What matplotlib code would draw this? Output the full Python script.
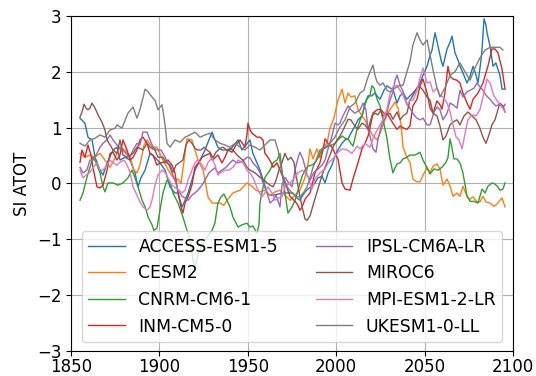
import matplotlib
matplotlib.use("Agg")
import matplotlib.pyplot as plt

# ---------------- data ----------------
access_years = [1855.1,1857.9,1859.6,1861.9,1863.6,1866.4,1868.1,1870.4,1873.8,1876.0,1877.7,1880.5,1883.4,1886.2,1887.9,1889.5,1891.9,1894.7,1897.5,1900.3,1903.2,1906.0,1908.8,1910.5,1912.8,1914.5,1916.2,1918.4,1920.1,1923.0,1925.8,1928.0,1929.8,1931.4,1933.1,1935.4,1938.2,1939.9,1942.2,1944.5,1946.7,1949.0,1951.2,1952.9,1955.2,1956.9,1959.2,1960.9,1962.6,1964.3,1967.1,1969.9,1972.7,1975.6,1977.8,1979.5,1980.7,1982.4,1984.0,1986.3,1988.0,1989.7,1992.0,1993.7,1995.4,1997.6,1999.3,2001.0,2003.3,2005.0,2006.7,2008.3,2010.6,2012.3,2014.6,2016.3,2018.0,2020.2,2021.9,2023.6,2024.8,2027.0,2028.7,2030.4,2032.1,2034.4,2036.1,2037.8,2040.0,2041.7,2043.4,2045.7,2047.4,2049.1,2051.4,2053.1,2054.2,2055.9,2057.6,2059.3,2060.4,2062.7,2064.4,2065.5,2067.2,2068.9,2070.0,2071.7,2074.0,2075.7,2077.4,2079.1,2080.2,2081.9,2082.5,2083.6,2084.7,2085.3,2087.0,2088.7,2090.3,2092.6,2093.8,2094.9]
access_vals = [1.17,1.08,0.83,0.78,0.47,0.24,0.15,0.37,0.60,0.65,0.42,0.47,0.42,0.19,-0.06,0.10,0.24,0.54,0.47,0.37,0.24,-0.06,-0.17,-0.17,-0.42,-0.30,-0.17,0.06,0.24,0.42,0.60,0.78,0.92,0.78,0.65,0.60,0.60,0.60,0.69,0.78,0.60,0.69,0.78,0.54,0.37,0.24,0.01,-0.17,-0.21,-0.21,-0.19,-0.17,-0.17,-0.17,-0.26,-0.30,-0.23,-0.15,-0.10,-0.05,0.01,0.10,0.13,0.01,0.19,0.33,0.49,0.60,0.72,0.78,0.80,0.90,1.03,1.14,1.21,1.44,1.57,1.57,1.62,1.55,1.51,1.67,1.75,1.71,1.69,1.44,1.57,1.62,1.51,1.57,1.62,1.71,1.80,1.94,2.10,2.30,2.39,2.70,2.46,2.21,2.10,2.41,2.53,2.64,2.34,2.21,2.10,1.98,1.80,1.92,2.10,1.94,1.80,2.21,2.41,2.95,2.84,2.70,2.46,2.10,2.16,1.94,1.69,1.69]

cesm_years = [1855.1,1857.9,1860.7,1863.6,1866.4,1869.2,1872.1,1874.9,1877.7,1880.5,1883.4,1885.6,1887.3,1889.0,1891.3,1893.0,1895.8,1898.6,1902.0,1904.3,1906.0,1908.8,1910.5,1912.2,1913.9,1915.6,1918.4,1920.1,1921.8,1924.7,1927.5,1929.8,1931.4,1934.3,1936.5,1938.2,1941.6,1945.6,1949.5,1952.4,1954.6,1956.9,1959.7,1962.6,1965.4,1968.2,1971.0,1973.9,1976.7,1979.5,1981.8,1983.5,1985.2,1986.9,1989.1,1990.8,1992.5,1994.8,1996.5,1998.7,2001.0,2003.3,2005.0,2006.7,2008.3,2010.6,2012.3,2014.6,2016.3,2018.0,2020.8,2023.1,2024.8,2026.5,2028.7,2030.4,2033.3,2035.0,2036.7,2037.8,2040.0,2041.7,2043.4,2045.7,2047.4,2049.1,2051.4,2053.1,2054.8,2057.0,2058.7,2060.4,2062.7,2064.4,2066.1,2068.3,2070.0,2071.7,2074.0,2075.7,2077.4,2079.6,2081.3,2083.0,2084.7,2087.0,2089.2,2090.9,2092.6,2093.8,2095.5]
cesm_vals = [0.54,0.47,0.51,0.47,0.54,0.42,0.29,0.46,0.65,0.60,0.47,0.24,0.19,0.33,0.69,0.78,0.65,0.65,0.42,0.28,0.19,0.06,0.08,0.00,0.40,0.80,0.78,0.60,0.42,0.24,-0.24,-0.35,-0.35,-0.35,-0.39,-0.30,-0.17,-0.12,0.01,-0.05,-0.12,-0.15,-0.12,-0.21,-0.15,-0.12,-0.21,-0.30,-0.21,-0.12,0.06,0.24,0.62,0.44,0.62,0.46,0.65,0.72,0.99,1.17,1.49,1.69,1.44,1.62,1.55,1.57,1.33,1.21,1.14,1.01,0.85,0.78,0.90,1.05,1.23,1.32,1.46,1.35,1.05,0.65,0.47,0.38,0.08,0.03,0.03,0.15,0.28,0.20,0.31,0.35,0.26,-0.03,0.08,-0.05,-0.23,-0.17,-0.23,-0.05,-0.23,-0.28,-0.24,-0.33,-0.33,-0.23,-0.33,-0.35,-0.41,-0.37,-0.30,-0.26,-0.42]

cnrm_years = [1855.1,1856.8,1859.0,1860.7,1862.4,1864.1,1866.4,1868.1,1869.2,1870.9,1873.8,1876.6,1879.4,1882.2,1884.5,1886.2,1887.9,1890.2,1891.9,1893.6,1895.8,1896.9,1898.6,1900.3,1902.0,1904.3,1906.0,1907.7,1910.5,1913.3,1915.6,1917.3,1919.0,1920.1,1921.8,1924.1,1925.8,1928.0,1929.8,1931.4,1933.1,1934.8,1936.5,1938.2,1939.9,1941.6,1944.5,1946.7,1949.5,1951.2,1952.9,1955.2,1956.3,1956.9,1958.0,1959.7,1962.6,1964.3,1966.5,1968.2,1969.3,1971.0,1972.7,1975.0,1976.7,1978.4,1980.7,1982.4,1984.0,1986.3,1988.0,1989.7,1992.0,1993.7,1995.4,1997.6,1999.3,2001.0,2003.3,2005.0,2006.7,2008.3,2009.5,2011.8,2013.5,2014.6,2016.3,2017.4,2019.1,2020.2,2021.4,2023.1,2024.8,2026.5,2028.7,2030.4,2032.1,2033.3,2034.4,2036.1,2037.8,2040.0,2041.7,2044.6,2047.4,2049.1,2051.4,2053.1,2055.3,2057.6,2059.8,2062.1,2063.2,2064.4,2065.5,2066.6,2068.3,2070.0,2071.7,2074.0,2075.7,2078.0,2080.2,2082.5,2084.2,2085.8,2088.1,2089.8,2091.5,2092.6,2094.3,2095.5]
cnrm_vals = [-0.30,-0.17,0.11,0.29,0.47,0.38,0.19,-0.06,-0.15,0.01,0.01,-0.03,0.01,0.10,0.24,0.10,-0.06,-0.30,-0.42,-0.60,-0.74,-0.84,-0.80,-0.48,-0.17,0.06,0.01,-0.17,-0.35,-0.60,-0.84,-1.01,-1.37,-1.52,-1.27,-1.10,-1.01,-0.92,-0.84,-0.71,-0.35,-0.24,-0.19,-0.30,-0.42,-0.60,-0.78,-0.74,-0.71,-0.78,-0.76,-0.89,-0.74,-0.35,-0.17,0.11,0.24,0.37,0.42,0.54,0.24,-0.17,-0.53,-0.42,-0.30,-0.12,0.13,0.24,0.31,0.33,0.37,0.46,0.62,0.63,0.67,0.69,0.72,0.78,0.85,0.81,0.80,0.72,0.67,0.97,1.14,1.21,1.41,1.51,1.58,1.75,1.71,1.51,1.39,1.14,0.81,0.44,0.19,0.28,0.35,0.37,0.44,0.47,0.51,0.51,0.56,0.42,0.28,0.17,0.26,0.24,0.29,0.38,0.46,0.80,0.63,0.44,0.44,0.37,0.19,-0.23,-0.32,-0.32,-0.35,-0.10,-0.17,-0.05,0.01,-0.01,-0.06,-0.12,-0.10,0.01]

inm_years = [1855.1,1856.2,1857.9,1859.6,1861.3,1862.4,1864.7,1866.4,1868.1,1870.4,1872.1,1873.8,1876.0,1877.7,1879.4,1881.7,1883.4,1885.1,1887.3,1889.0,1890.7,1893.0,1894.7,1896.4,1898.6,1900.3,1902.6,1904.9,1907.1,1908.8,1910.5,1912.2,1913.3,1914.5,1916.2,1918.4,1920.1,1922.4,1924.1,1926.4,1928.6,1929.8,1931.4,1933.1,1935.4,1937.1,1938.8,1941.1,1943.3,1945.6,1948.4,1949.5,1950.1,1951.2,1952.4,1955.2,1956.9,1958.6,1959.7,1961.4,1963.1,1964.3,1966.5,1968.2,1969.9,1972.2,1973.9,1976.7,1978.4,1979.5,1980.7,1982.4,1985.2,1988.0,1990.8,1992.5,1993.7,1995.4,1997.6,1999.3,2001.0,2003.3,2005.0,2007.8,2009.5,2012.3,2014.6,2016.3,2018.0,2019.1,2020.8,2023.1,2024.8,2026.5,2028.7,2030.4,2032.1,2034.4,2036.1,2038.3,2040.0,2041.7,2043.4,2045.7,2047.4,2049.1,2051.4,2053.1,2054.8,2057.0,2058.7,2059.8,2061.5,2063.2,2064.4,2066.1,2068.3,2070.0,2071.7,2074.0,2075.7,2077.4,2080.2,2083.0,2085.8,2088.1,2089.8,2091.5,2093.8,2095.5]
inm_vals = [0.38,0.60,0.47,0.69,0.51,0.29,-0.06,-0.08,-0.03,0.24,0.54,0.56,0.42,0.51,0.78,0.60,0.42,0.47,0.60,0.78,0.83,0.72,0.54,0.51,0.33,0.37,0.38,0.42,0.33,0.19,-0.17,-0.42,-0.53,-0.35,-0.24,-0.03,0.29,0.38,0.47,0.51,0.54,0.42,0.46,0.51,0.37,0.47,0.60,0.56,0.69,0.78,0.65,0.87,1.08,0.96,0.90,0.83,0.83,0.78,0.54,0.47,0.38,0.29,0.37,0.24,0.11,-0.08,-0.23,-0.32,-0.39,-0.48,-0.42,-0.28,-0.17,0.19,0.37,0.60,0.80,0.72,0.65,0.54,0.44,0.01,-0.10,-0.12,0.08,0.37,0.62,0.72,0.85,0.99,1.26,1.32,1.33,1.21,1.26,1.17,1.08,0.97,1.03,0.99,0.97,1.03,1.39,1.51,1.75,1.87,1.62,1.35,1.26,1.48,1.41,1.33,1.62,2.10,1.92,1.87,1.85,1.80,1.62,1.44,1.33,1.51,1.62,1.80,2.10,2.41,2.41,2.34,2.05,1.69]

ipsl_years = [1855.1,1856.8,1859.0,1860.7,1862.4,1864.7,1866.4,1868.1,1870.4,1872.1,1873.8,1876.0,1877.7,1879.4,1881.7,1883.4,1885.1,1887.3,1889.0,1890.7,1893.0,1894.7,1896.4,1898.6,1900.9,1903.2,1905.4,1907.1,1908.8,1910.5,1912.8,1914.5,1916.2,1918.4,1920.1,1921.8,1924.1,1925.8,1928.0,1929.8,1931.4,1933.1,1935.4,1937.7,1939.9,1941.6,1943.9,1945.6,1947.8,1949.5,1951.2,1952.9,1955.2,1956.9,1958.6,1960.9,1962.6,1964.3,1966.0,1968.2,1969.3,1971.0,1972.7,1975.0,1976.7,1978.4,1979.5,1981.2,1983.5,1985.2,1987.4,1989.7,1992.0,1993.7,1995.4,1997.6,1999.3,2001.0,2002.1,2003.8,2006.7,2008.3,2010.6,2013.5,2015.2,2016.8,2018.0,2019.1,2020.8,2022.5,2023.6,2025.9,2028.1,2030.4,2032.1,2033.3,2034.4,2036.1,2037.8,2040.0,2041.7,2043.9,2045.7,2047.4,2049.1,2051.4,2053.1,2055.3,2057.0,2058.7,2060.4,2062.7,2064.4,2066.1,2068.3,2070.0,2071.7,2074.0,2075.7,2078.0,2079.6,2081.3,2083.0,2084.7,2087.0,2088.7,2090.3,2092.6,2094.3,2095.5]
ipsl_vals = [0.29,0.19,0.24,0.42,0.42,0.54,0.65,0.72,0.78,0.87,0.78,0.69,0.63,0.60,0.51,0.47,0.60,0.72,0.69,0.92,0.92,0.78,0.65,0.60,0.60,0.47,0.33,0.19,0.06,-0.12,-0.23,-0.26,-0.30,-0.21,-0.17,-0.12,-0.03,0.06,0.19,0.24,0.28,0.19,0.24,0.29,0.37,0.42,0.37,0.38,0.42,0.47,0.46,0.37,0.29,0.19,0.01,-0.17,-0.35,-0.30,-0.21,-0.42,-0.03,0.11,0.03,-0.06,0.24,0.46,0.56,0.44,0.15,0.06,0.20,0.26,0.33,0.42,0.62,0.85,1.08,1.05,1.08,1.21,1.39,1.32,1.26,1.32,1.44,1.32,0.97,0.85,0.62,0.56,0.78,1.08,1.19,1.49,1.64,1.85,1.94,1.76,1.65,1.42,1.35,1.23,1.17,1.14,1.17,1.05,1.05,1.28,1.37,1.32,1.14,1.26,1.44,1.41,1.35,1.67,1.55,1.64,1.67,1.71,1.80,1.73,1.67,1.58,1.51,1.44,1.39,1.42,1.35,1.42]

miroc_years = [1855.1,1856.2,1857.4,1858.5,1859.6,1860.7,1861.9,1863.6,1865.3,1867.5,1869.2,1870.4,1872.1,1873.8,1876.0,1877.7,1879.4,1881.7,1883.4,1885.1,1887.3,1889.0,1890.7,1893.0,1894.7,1897.5,1899.2,1902.0,1903.7,1906.0,1907.7,1909.4,1911.1,1913.3,1915.0,1916.7,1918.4,1920.1,1921.8,1923.5,1925.2,1926.9,1928.6,1930.3,1932.0,1934.3,1936.0,1938.2,1939.9,1941.6,1943.9,1945.6,1947.3,1949.5,1951.2,1954.1,1956.9,1959.2,1960.9,1962.6,1964.3,1966.0,1967.6,1969.3,1971.0,1972.7,1974.4,1976.1,1977.8,1979.5,1981.2,1982.4,1983.5,1985.2,1986.9,1988.6,1990.3,1992.0,1994.2,1996.5,1998.2,2000.5,2002.1,2004.4,2006.7,2008.3,2010.1,2012.3,2014.6,2016.3,2018.0,2020.2,2021.9,2023.6,2025.4,2027.0,2028.7,2030.4,2032.1,2034.4,2036.1,2037.8,2040.0,2041.7,2043.4,2045.7,2047.4,2049.1,2051.4,2053.1,2054.8,2057.0,2058.7,2060.4,2062.1,2064.4,2066.1,2068.3,2070.0,2072.3,2074.5,2076.8,2079.1,2081.3,2083.0,2084.7,2086.4,2088.1,2089.8,2091.5,2092.6,2094.3,2095.5]
miroc_vals = [1.19,1.28,1.42,1.35,1.32,1.35,1.44,1.35,1.23,1.10,0.96,0.78,0.69,0.60,0.54,0.78,0.51,0.47,0.51,0.54,0.65,0.63,0.60,0.72,0.65,0.60,0.47,0.47,0.38,0.33,0.20,0.33,0.37,0.42,0.69,0.78,0.72,0.63,0.60,0.60,0.65,0.60,0.56,0.46,0.56,0.63,0.65,0.60,0.63,0.60,0.51,0.46,0.42,0.29,0.24,0.19,0.11,0.06,0.01,-0.03,-0.06,0.06,0.24,0.37,0.54,0.42,0.47,0.38,0.06,-0.24,-0.48,-0.64,-0.66,-0.58,-0.39,-0.21,-0.03,0.15,0.33,0.51,0.65,0.78,0.85,0.99,1.15,1.14,1.05,0.97,1.08,1.05,0.97,1.21,1.26,1.23,1.32,1.26,1.23,1.26,1.15,1.28,1.14,1.21,1.26,1.49,1.58,1.71,1.73,1.67,1.55,1.49,1.26,1.21,1.03,0.78,0.85,1.05,1.10,1.14,1.05,1.21,1.28,1.21,1.14,0.99,0.83,0.72,0.87,1.05,1.14,1.32,1.44,1.39,1.28]

mpi_years = [1855.1,1856.8,1858.5,1860.7,1862.4,1864.7,1866.4,1868.1,1870.4,1872.1,1873.8,1876.0,1877.7,1880.0,1881.7,1883.4,1885.1,1887.3,1889.0,1890.7,1893.0,1894.7,1895.8,1897.5,1899.2,1901.5,1903.2,1904.9,1907.1,1909.4,1911.1,1912.8,1914.5,1916.2,1918.4,1920.1,1921.8,1924.1,1925.8,1927.5,1929.8,1931.4,1933.1,1934.8,1937.1,1939.4,1941.6,1944.5,1947.3,1949.5,1951.2,1952.9,1955.8,1958.0,1959.7,1961.4,1963.7,1965.4,1967.6,1969.3,1971.0,1973.9,1976.7,1978.4,1980.7,1982.4,1984.0,1986.3,1988.0,1990.8,1993.7,1995.4,1998.2,2000.5,2003.3,2006.1,2008.9,2011.8,2013.5,2016.3,2019.1,2020.8,2022.5,2024.8,2026.5,2028.7,2030.4,2032.1,2034.4,2036.1,2037.8,2040.0,2041.7,2043.4,2045.7,2047.4,2049.1,2051.4,2053.1,2054.8,2057.0,2058.7,2060.4,2062.7,2064.4,2066.1,2067.8,2069.5,2071.2,2072.9,2074.5,2076.8,2079.1,2081.3,2083.0,2085.3,2087.0,2089.2,2091.5,2093.8,2095.5]
mpi_vals = [0.24,0.10,0.15,0.20,0.28,0.37,0.24,0.24,0.33,0.42,0.37,0.33,0.38,0.42,0.33,0.20,-0.06,-0.21,-0.33,-0.42,-0.48,-0.42,-0.30,-0.03,0.15,0.24,0.20,0.10,-0.03,-0.08,-0.12,-0.17,-0.12,0.06,0.24,0.37,0.42,0.33,0.24,0.38,0.46,0.33,0.15,0.20,0.24,0.24,0.29,0.42,0.37,0.24,0.19,0.11,-0.12,-0.24,-0.17,-0.06,-0.17,-0.30,-0.26,-0.24,-0.06,0.01,0.11,0.19,0.24,0.19,0.13,-0.10,0.08,0.19,0.26,0.37,0.44,0.54,0.62,0.60,0.54,0.67,0.62,0.72,0.65,0.80,0.92,1.05,1.15,1.33,1.60,1.73,1.76,1.67,1.58,1.41,1.49,1.49,1.67,1.89,2.07,1.80,1.82,1.64,1.71,1.58,1.55,1.44,1.28,1.05,0.83,0.78,0.62,0.90,1.14,1.23,1.21,1.32,1.55,1.87,1.80,1.57,1.46,1.37,1.28]

ukesm_years = [1855.1,1857.9,1860.7,1863.6,1866.4,1869.2,1872.1,1874.9,1876.0,1878.8,1882.2,1885.1,1887.3,1889.0,1891.9,1893.6,1895.8,1897.5,1899.2,1901.5,1903.2,1904.3,1906.0,1908.8,1911.7,1914.5,1917.3,1920.1,1923.0,1925.8,1928.6,1931.4,1934.3,1937.1,1939.9,1942.8,1945.6,1948.4,1951.2,1954.1,1956.9,1959.7,1962.6,1965.4,1967.1,1969.3,1972.2,1975.0,1977.3,1979.5,1981.8,1983.5,1985.2,1986.9,1989.1,1990.8,1993.7,1996.5,1999.3,2002.1,2005.0,2007.8,2010.6,2013.5,2015.7,2017.4,2019.1,2020.8,2021.9,2023.1,2024.8,2026.5,2028.7,2030.4,2033.3,2036.1,2037.8,2040.0,2041.7,2043.4,2045.7,2047.4,2049.1,2051.4,2053.1,2054.8,2057.0,2058.7,2061.5,2064.4,2067.2,2070.0,2072.9,2075.7,2078.5,2081.3,2084.2,2087.0,2089.8,2092.6,2094.3]
ukesm_vals = [0.72,0.67,0.78,0.81,0.87,0.83,0.96,0.99,1.05,0.99,1.26,1.37,1.17,1.32,1.69,1.64,1.55,1.49,1.32,1.41,1.05,0.72,0.65,0.78,0.74,0.83,0.87,0.92,0.83,0.87,0.90,0.78,0.72,0.69,0.65,0.72,0.65,0.60,0.69,0.65,0.60,0.69,0.78,0.78,0.60,0.19,-0.06,-0.17,-0.23,-0.24,-0.15,-0.06,0.10,0.29,0.46,0.60,0.65,0.72,0.83,1.01,1.14,1.37,1.44,1.62,1.67,1.85,2.00,2.12,1.94,1.82,1.76,1.80,1.67,1.64,1.71,1.76,1.76,2.00,2.18,2.48,2.70,2.57,2.48,2.57,2.30,2.03,1.71,1.55,1.71,1.94,2.00,2.16,2.00,1.85,2.07,2.25,2.39,2.44,2.44,2.44,2.39]

model_names = ["ACCESS-ESM1-5", "CESM2", "CNRM-CM6-1", "INM-CM5-0",
               "IPSL-CM6A-LR", "MIROC6", "MPI-ESM1-2-LR", "UKESM1-0-LL"]
x_ticks = [1850, 1900, 1950, 2000, 2050, 2100]
y_ticks = [-3, -2, -1, 0, 1, 2, 3]

series = [
    (access_years, access_vals),
    (cesm_years, cesm_vals),
    (cnrm_years, cnrm_vals),
    (inm_years, inm_vals),
    (ipsl_years, ipsl_vals),
    (miroc_years, miroc_vals),
    (mpi_years, mpi_vals),
    (ukesm_years, ukesm_vals),
]

# ---------------- figure ----------------
fig = plt.figure(figsize=(5.36, 3.76), dpi=100)
ax = fig.add_axes([71/536, 1 - 351/376, (513-71)/536, (351-16)/376])

for (yrs, vals), name in zip(series, model_names):
    ax.plot(yrs, vals, lw=1.0, label=name)

ax.set_xlim(1850, 2100)
ax.set_ylim(-3, 3)
ax.set_xticks(x_ticks)
ax.set_yticks(y_ticks)
ax.tick_params(labelsize=12)
ax.tick_params(axis="x", pad=1.5)
ax.grid(True)
ax.set_ylabel("SI ATOT", fontsize=12)
ax.legend(loc="lower center", ncol=2, fontsize=12.4,
          columnspacing=2.2, handlelength=2.1)

fig.savefig("out.png", dpi=100)
